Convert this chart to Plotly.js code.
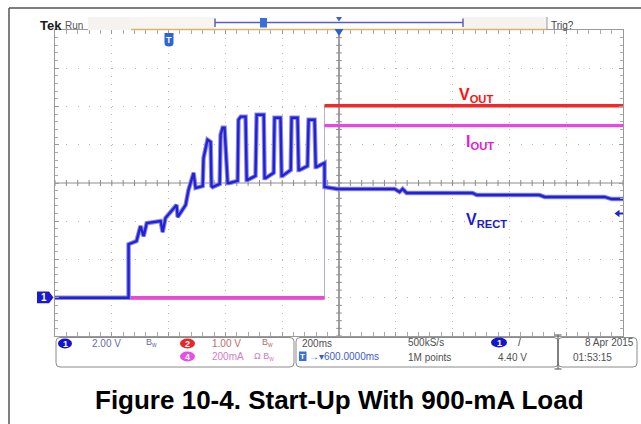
<!DOCTYPE html>
<html><head><meta charset="utf-8">
<script src="https://cdn.plot.ly/plotly-3.0.1.min.js"></script>
<style>html,body{margin:0;padding:0;background:#fff}#chart{width:641px;height:424px}</style>
</head><body><div id="chart"></div>
<script>
// ---------- data (time in ms relative to trigger, 200 ms/div) ----------
const tRect = [-400,-141,-141,-113,-99,-88,-77,-28,-21,-11,28,32,60,70,88,95,120,
  123,137,148,151,155,180,183,190,197,208,211,215,243,246,254,271,275,278,306,
  310,317,335,338,342,370,373,380,394,398,401,430,433,440,454,458,461,489,
  493,500,514,518,521,549,549,595,796,813,824,838,1070,1085,1306,1324,1535,1560,1600];
const vRect = [0,0,2.80,2.96,3.75,3.22,3.90,4.01,3.43,4.17,4.85,4.22,4.85,5.63,6.53,5.74,5.84,
  7.31,8.26,8.15,5.84,5.79,5.95,8.52,8.89,8.89,6.00,6.00,6.00,6.11,9.31,9.47,9.47,6.16,6.16,6.37,
  9.57,9.57,9.57,6.26,6.26,6.53,9.41,9.41,9.41,6.37,6.37,6.68,9.41,9.41,9.41,6.68,6.68,6.89,
  9.31,9.31,9.31,6.84,6.84,7.05,5.79,5.69,5.69,5.53,5.69,5.48,5.48,5.37,5.37,5.27,5.27,5.16,5.16];
const tOut = [-400, 549, 549, 1600];
const vOut = [0, 0, 5.02, 5.02];          // V, 1 V/div
const tIout = [-400, 549, 549, 1600];
const iOut = [0, 0, 900, 900];            // mA, 200 mA/div
const statusRow1 = ["2.00 V", "1.00 V", "200ms", "500kS/s", "8 Apr 2015"];
const statusRow2 = ["200mA", "\u2192\u25BE600.0000ms", "1M points", "4.40 V", "01:53:15"];
const caption = "Figure 10-4. Start-Up With 900-mA Load";

// ---------- pixel helpers for decoration ----------
const L=55, R=623, T=30, B=336, W=R-L, H=B-T;
const px = x => (x-L)/W, py = y => (B-y)/H;
const F = "Liberation Sans, Arial, sans-serif";
const shapes = [], annotations = [];
function pline(x0,y0,x1,y1,color,width,layer){shapes.push({type:'line',xref:'paper',yref:'paper',x0:px(x0),y0:py(y0),x1:px(x1),y1:py(y1),line:{color:color,width:width||1},layer:layer||'above'});}
function prect(x0,y0,x1,y1,fill,lc,lw,layer){shapes.push({type:'rect',xref:'paper',yref:'paper',x0:px(x0),y0:py(y0),x1:px(x1),y1:py(y1),fillcolor:fill||'rgba(0,0,0,0)',line:{color:lc||'rgba(0,0,0,0)',width:lw||0},layer:layer||'above'});}
function pell(x0,y0,x1,y1,fill){shapes.push({type:'circle',xref:'paper',yref:'paper',x0:px(x0),y0:py(y0),x1:px(x1),y1:py(y1),fillcolor:fill,line:{width:0}});}
function ppath(pts,fill,lc,lw){let d='';pts.forEach((p,i)=>{if(p[0]==='Q'){d+='Q'+px(p[1])+','+py(p[2])+' '+px(p[3])+','+py(p[4])+' ';}else{d+=(i?'L':'M')+px(p[0])+','+py(p[1])+' ';}});
  shapes.push({type:'path',xref:'paper',yref:'paper',path:d+(fill?'Z':''),fillcolor:fill||'rgba(0,0,0,0)',line:{color:lc||'rgba(0,0,0,0)',width:lw||0}});}
function rrect(x0,y0,x1,y1,r,lc){ppath([[x0+r,y0],[x1-r,y0],['Q',x1,y0,x1,y0+r],[x1,y1-r],['Q',x1,y1,x1-r,y1],[x0+r,y1],['Q',x0,y1,x0,y1-r],[x0,y0+r],['Q',x0,y0,x0+r,y0]],null,lc,1);}
function txt(text,x,y,size,color,opts){opts=opts||{};annotations.push({xref:'paper',yref:'paper',x:px(x),y:py(y),text:text,showarrow:false,xanchor:opts.anchor||'left',yanchor:'middle',
  font:{family:opts.family||F,size:size,color:color,weight:opts.bold?'bold':'normal'}});}

// outer frame
pline(9,8,641,8,'#555',1.5); pline(9,8,9,424,'#555',1.5);
// top bar
prect(88,17,131,30,'#f5f2f0'); prect(131,17,215,30,'#f8f4ef'); prect(463,17,547,30,'#f5f2f0');
pline(131,29.6,547,29.6,'#d8b46c',1.5);
pline(215,22.5,463,22.5,'#5b5bc8',1.5); pline(215,18.5,215,27,'#6060b0',1.5); pline(463,18.5,463,27,'#6060b0',1.5);
pline(547,17,547,30,'#999',1);
prect(260,18,267,27.5,'#3a6fd8');
ppath([[336,17],[342,17],[339,21.5]],'#3a5fd0');
ppath([[334.5,29],[343.5,29],[339,36]],'#2d5fd0');
ppath([[164.5,33],[173.5,33],[173.5,43],['Q',173.5,46.5,169,46.5],['Q',164.5,46.5,164.5,43]],'#2f64d6');
txt('T',169,39.5,9,'#fff',{anchor:'center',bold:true});
txt('Tek',38,25,13,'#1a1a1a',{bold:true}); txt('Run',63,25,10,'#555');
txt('Trig?',549,25,10,'#444');
// ground marker & trigger level
ppath([[37,291.5],[49,291.5],[53.5,297.4],[49,303.3],[37,303.3]],'#1a1ad0');
txt('1',44,297.6,10,'#fff',{anchor:'center',bold:true});
pline(618,213.5,623,213.5,'#2424c8',2); ppath([[614.5,213.5],[619.5,209.8],[619.5,217.2]],'#2424c8');
// trace labels
txt('V<sub>OUT</sub>',457,95,16,'#ff1010',{bold:true});
txt('I<sub>OUT</sub>',464,142,16,'#e020d0',{bold:true});
txt('V<sub>RECT</sub>',464,220,16,'#1c1cc8',{bold:true});
// status bar
rrect(56,337.5,294,367,4,'#8a8a8a'); rrect(296,337.5,558,367,4,'#8a8a8a'); rrect(558,337.5,637,367,4,'#8a8a8a');
pline(558,335,558,369,'#666',1.2); pline(554.5,335,561.5,335,'#666',1.2); pline(554.5,369,561.5,369,'#666',1.2);
pell(58,338.5,72,348.5,'#1515cc'); txt('1',65,343.6,9,'#fff',{anchor:'center',bold:true});
pell(180,338.5,195,348.5,'#e8262a'); txt('2',187.5,343.6,9,'#fff',{anchor:'center',bold:true});
pell(180,351.5,195,361.5,'#e650e0'); txt('4',187.5,356.6,9,'#fff',{anchor:'center',bold:true});
pell(491,337.5,507,347.5,'#1515cc'); txt('1',499,342.6,9,'#fff',{anchor:'center',bold:true});
txt(statusRow1[0],90,343.5,10,'#6a6aa8'); txt('B<sub>w</sub>',144,342.5,9,'#6a6aa8');
txt(statusRow1[1],210,343.5,10,'#b86c6c'); txt('B<sub>w</sub>',260,342.5,9,'#b86c6c');
txt(statusRow2[0],210,356.5,10,'#d07cc6'); txt('\u03A9 B<sub>w</sub>',252,356,9,'#d07cc6');
txt(statusRow1[2],300,343,10,'#505050');
prect(299,351.5,306.5,361,'#3a6fd8'); txt('T',302.8,356.3,8,'#fff',{anchor:'center',bold:true});
txt(statusRow2[1],307,356.5,10,'#3b5bd0');
txt(statusRow1[3],406,342.5,10,'#505050'); txt(statusRow2[2],406,357,10,'#505050');
txt('/',516,342,10,'#333'); txt(statusRow2[3],496,357,10,'#505050');
txt(statusRow1[4],636,342.5,10,'#505050',{anchor:'right'}); txt(statusRow2[4],571,357,10,'#505050');
// caption
txt(caption,339,400,26,'#000',{anchor:'center',bold:true});

// center lines with fine ticks (in data coordinates of the main axes)
shapes.push({type:'line',xref:'paper',yref:'y',x0:0,x1:1,y0:3,y1:3,line:{color:'#8c8c8c',width:1},layer:'between'});
shapes.push({type:'line',xref:'x',yref:'paper',x0:600,x1:600,y0:0,y1:1,line:{color:'#3c3c4c',width:1},layer:'between'});
for(let t=-400;t<=1600;t+=40){shapes.push({type:'line',xref:'x',yref:'y',x0:t,x1:t,y0:2.92,y1:3.08,line:{color:'#8c8c8c',width:1},layer:'between'});}
for(let v=-1;v<=7.001;v+=0.2){shapes.push({type:'line',xref:'x',yref:'y',x0:590,x1:610,y0:v,y1:v,line:{color:'#8c8c8c',width:1},layer:'between'});}

function gapped(t,v){const xs=[],ys=[];for(let i=0;i<t.length;i++){if(i>0&&t[i]===t[i-1]){xs.push(null);ys.push(null);}xs.push(t[i]);ys.push(v[i]);}return [xs,ys];}
const [gx1,gy1]=gapped(tOut,vOut), [gx2,gy2]=gapped(tIout,iOut);
const traces=[
  {x:tOut,y:vOut,yaxis:'y',mode:'lines',line:{color:'#b8b0d0',width:1}},
  {x:gx1,y:gy1,yaxis:'y',mode:'lines',line:{color:'#f0282a',width:3.4}},
  {x:tIout,y:iOut,yaxis:'y2',mode:'lines',line:{color:'#b8b0d0',width:1}},
  {x:gx2,y:gy2,yaxis:'y2',mode:'lines',line:{color:'#e848e0',width:3.4}},
  {x:tRect,y:vRect,yaxis:'y3',mode:'lines',line:{color:'#8a8aea',width:4.5}},
  {x:tRect,y:vRect,yaxis:'y3',mode:'lines',line:{color:'#2222d2',width:2.4}}
];
const layout={
  width:641,height:424,margin:{l:L,r:641-R,t:T,b:424-B,pad:0},
  paper_bgcolor:'#fff',plot_bgcolor:'#fff',showlegend:false,
  xaxis:{range:[-400,1600],tick0:0,dtick:200,showgrid:true,gridcolor:'#b8b8b8',griddash:'1px,6.65px',gridwidth:1,
    zeroline:false,showline:true,linecolor:'#9a9a9a',linewidth:1,mirror:'allticks',ticks:'inside',ticklen:4,tickcolor:'#9a9a9a',
    showticklabels:false,minor:{dtick:40,ticks:'inside',ticklen:3,tickcolor:'#aaaaaa'}},
  yaxis:{range:[-1,7],dtick:1,tick0:0,showgrid:true,gridcolor:'#b8b8b8',griddash:'1px,10.36px',gridwidth:1,
    zeroline:false,showline:true,linecolor:'#9a9a9a',linewidth:1,mirror:'allticks',ticks:'inside',ticklen:4,tickcolor:'#9a9a9a',
    showticklabels:false,minor:{dtick:0.2,ticks:'inside',ticklen:3,tickcolor:'#aaaaaa'}},
  yaxis2:{range:[-200,1400],overlaying:'y',visible:false},
  yaxis3:{range:[-2,14],overlaying:'y',visible:false},
  shapes:shapes,annotations:annotations
};
Plotly.newPlot('chart',traces,layout,{staticPlot:true,displayModeBar:false});
</script></body></html>
